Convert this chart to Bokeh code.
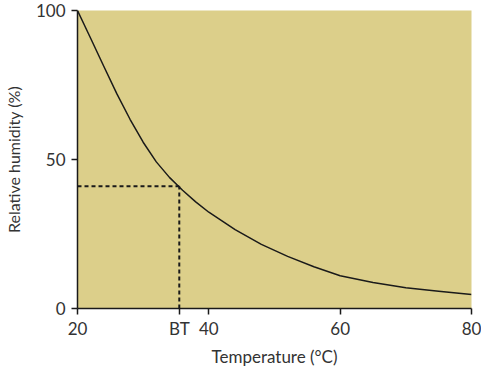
from bokeh.plotting import figure
from bokeh.models import Range1d, FixedTicker
from bokeh.embed import file_html
from bokeh.resources import INLINE

# Curve: relative humidity vs temperature
temperature = [20, 22, 24, 26, 28, 30, 32, 34, 36, 38, 40, 44, 48, 52, 56, 60, 65, 70, 75, 80]
humidity = [100, 90.7, 81.3, 72, 63.5, 55.8, 49.2, 44, 39.7, 35.8, 32.3, 26.5, 21.5, 17.5, 14, 11, 8.7, 7, 5.8, 4.7]

bt_temp = 35.5
bt_humidity = 41
bt_label = "BT"
x_ticks = [20, 40, 60, 80]
y_ticks = [0, 50, 100]

FONT = "Lato"
INK = "#1a1a1a"
TXT = "#333333"
BG = "#DCCF8A"

p = figure(width=481, height=370, output_backend="svg", toolbar_location=None,
           x_range=Range1d(20, 80), y_range=Range1d(0, 100),
           min_border_left=76, min_border_right=10, min_border_top=10, min_border_bottom=62)

p.background_fill_color = BG
p.border_fill_color = "white"
p.outline_line_color = None
p.grid.visible = False

for ax in (p.xaxis[0], p.yaxis[0]):
    ax.axis_line_color = INK
    ax.axis_line_width = 1.5
    ax.major_tick_line_color = INK
    ax.major_tick_line_width = 1.5
    ax.major_tick_out = 6
    ax.major_tick_in = 0
    ax.minor_tick_line_color = None
    ax.major_label_text_font = FONT
    ax.major_label_text_font_size = "17px"
    ax.major_label_text_color = TXT
    ax.axis_label_text_font = FONT
    ax.axis_label_text_font_style = "normal"
    ax.axis_label_text_color = TXT

p.xaxis.axis_label_text_font_size = "17px"
p.yaxis.axis_label_text_font_size = "16px"
p.xaxis.ticker = FixedTicker(ticks=sorted(x_ticks + [bt_temp]))
p.xaxis.major_label_overrides = {bt_temp: bt_label}
p.yaxis.ticker = FixedTicker(ticks=y_ticks)
p.xaxis.axis_label = "Temperature (°C)"
p.yaxis.axis_label = "Relative humidity (%)"
p.xaxis.major_label_standoff = 3
p.yaxis.major_label_standoff = 6
p.xaxis.axis_label_standoff = 4
p.yaxis.axis_label_standoff = 10

p.line(temperature, humidity, line_color=INK, line_width=1.5, line_join="round")

p.line([20, bt_temp], [bt_humidity, bt_humidity], line_color=INK, line_width=2, line_dash="4 3")
p.line([bt_temp, bt_temp], [0, bt_humidity], line_color=INK, line_width=2, line_dash="4 3")

open("out.html", "w").write(file_html(p, INLINE))
